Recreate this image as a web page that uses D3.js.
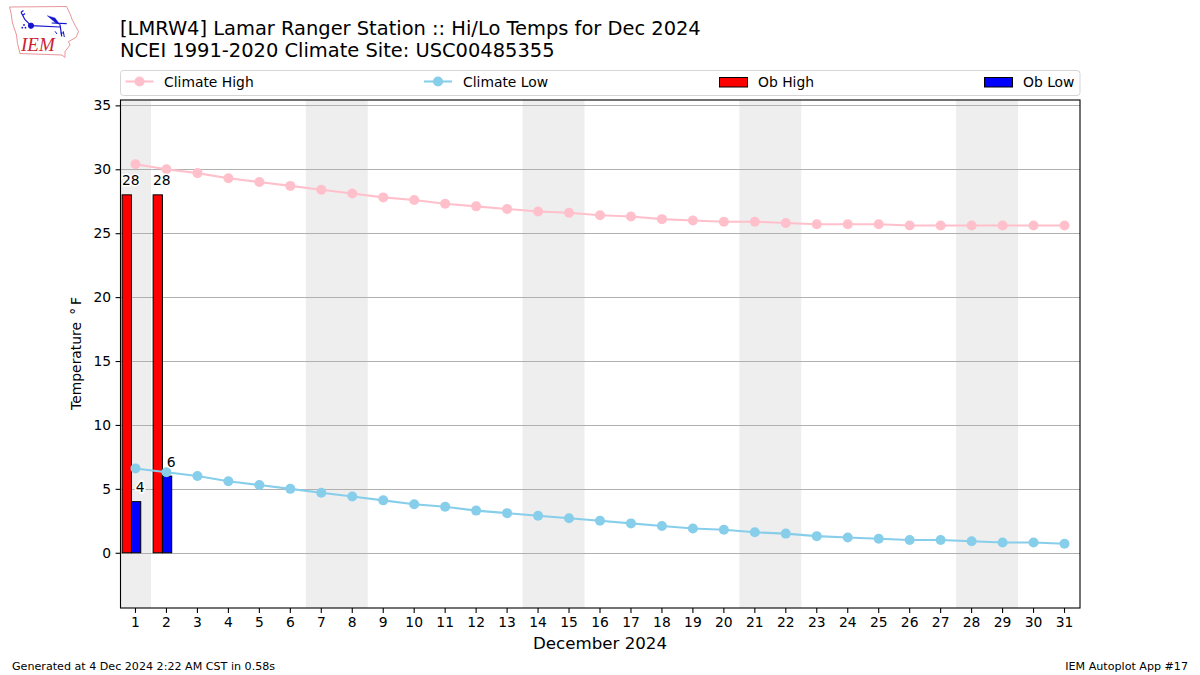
<!DOCTYPE html>
<html><head><meta charset="utf-8">
<script src="https://cdnjs.cloudflare.com/ajax/libs/d3/7.8.5/d3.min.js"></script>
<style>
html,body{margin:0;padding:0;background:#fff}
svg{display:block}
text{font-family:"DejaVu Sans",sans-serif;fill:#000}
</style></head><body>
<svg id="c" width="1200" height="675"></svg>
<script>
const days = d3.range(1, 32);
const climateHigh = [30.4,30.0,29.7,29.3,29.0,28.7,28.4,28.1,27.8,27.6,27.3,27.1,26.9,26.7,26.6,26.4,26.3,26.1,26.0,25.9,25.9,25.8,25.7,25.7,25.7,25.6,25.6,25.6,25.6,25.6,25.6];
const climateLow = [6.6,6.3,6.0,5.6,5.3,5.0,4.7,4.4,4.1,3.8,3.6,3.3,3.1,2.9,2.7,2.5,2.3,2.1,1.9,1.8,1.6,1.5,1.3,1.2,1.1,1.0,1.0,0.9,0.8,0.8,0.7];
const obDays = [1, 2];
const obHigh = [28, 28];
const obLow = [4, 6];
const weekends = [[0.5,1.5],[6.5,8.5],[13.5,15.5],[20.5,22.5],[27.5,29.5]];
const yTicks = [0,5,10,15,20,25,30,35];
const titleLines = ["[LMRW4] Lamar Ranger Station :: Hi/Lo Temps for Dec 2024","NCEI 1991-2020 Climate Site: USC00485355"];
const xLabel = "December 2024";
const yLabel = "Temperature \u2009\u00B0\u2009F";
const footLeft = "Generated at 4 Dec 2024 2:22 AM CST in 0.58s";
const footRight = "IEM Autoplot App #17";
const legendItems = [
  {name:"Climate High", kind:"line", color:"pink", x:125.5},
  {name:"Climate Low", kind:"line", color:"skyblue", x:424},
  {name:"Ob High", kind:"bar", color:"red", x:719},
  {name:"Ob Low", kind:"bar", color:"blue", x:984}
];

const L=120,R=1080,T=100,B=608;
const x=d3.scaleLinear().domain([0.5,31.5]).range([L,R]);
const y=d3.scaleLinear().domain([-4.32,35.42]).range([B,T]);
const snap=v=>Math.round(v)+.5;
const svg=d3.select("#c");

// logo
const logo=svg.append("g");
const outline=[[9.5,7],[66.5,6.5],[70.5,15],[72.5,20.5],[78.5,31.5],[76,37.5],[68.5,41.5],[70,45],[65,51.5],[65,57.5],[62,55],[20,53.5],[17.5,43.5],[16.5,35],[12.5,23],[11,13]];
logo.append("path").attr("d",d3.line().curve(d3.curveLinearClosed)(outline)).attr("fill","#fff").attr("stroke","#e8959c").attr("stroke-width",1);
const glyph=logo.append("g").attr("stroke","#1515d0").attr("fill","#1515d0");
glyph.append("path").attr("d","M31 25.7 L60 27 M51.7 23 L66.7 23.7 M60 24.7 L61.7 36.3 M21 12.3 L25 19.7 L31 25.7 M21 12.3 L23.5 10.5 M22.5 15.5 L25 13.5").attr("fill","none").attr("stroke-width",1.2);
glyph.append("circle").attr("cx",31).attr("cy",25.7).attr("r",2.6);
glyph.append("path").attr("d","M47.3 15.7 L55 18 L60 24.7 L55 22.3 Z").attr("stroke-width",.4);
glyph.append("path").attr("d","M55 31.3 L57 34 M63.3 31.3 L64.3 37 M60.5 33 L64 33").attr("fill","none").attr("stroke-width",1);
glyph.selectAll("circle.d").data([[22.3,27.7],[25.5,27.7],[24,25]]).join("circle").attr("class","d").attr("cx",d=>d[0]).attr("cy",d=>d[1]).attr("r",.9).attr("stroke","none");
logo.append("text").attr("x",21).attr("y",51).attr("font-size",19).attr("font-style","italic")
  .style("font-family","'Liberation Serif',serif").style("fill","#cc2233").text("IEM");

// titles
titleLines.forEach((t,i)=>svg.append("text").attr("x",120).attr("y",35+i*22).attr("font-size",19.44).text(t));

// legend
svg.append("rect").attr("x",120.5).attr("y",70.5).attr("width",959.5).attr("height",25).attr("rx",3)
  .attr("fill","#fff").attr("stroke","#d5d5d5").attr("stroke-width",1);
legendItems.forEach(d=>{
  if(d.kind==="line"){
    svg.append("line").attr("x1",d.x).attr("x2",d.x+28).attr("y1",81.5).attr("y2",81.5).attr("stroke",d.color).attr("stroke-width",2.08);
    svg.append("circle").attr("cx",d.x+14).attr("cy",81.5).attr("r",5).attr("fill",d.color);
  } else {
    svg.append("rect").attr("x",d.x+.5).attr("y",77.5).attr("width",28).attr("height",9.5).attr("fill",d.color).attr("stroke","#000").attr("stroke-width",1);
  }
  svg.append("text").attr("x",Math.round(d.x+38.7)).attr("y",86.5).attr("font-size",13.89).text(d.name);
});

// shading
svg.append("g").selectAll("rect").data(weekends).join("rect")
  .attr("x",d=>x(d[0])).attr("width",d=>x(d[1])-x(d[0])).attr("y",T).attr("height",B-T).attr("fill","#eeeeee");

// grid
svg.append("g").selectAll("line").data(yTicks).join("line")
  .attr("x1",L).attr("x2",R).attr("y1",d=>snap(y(d))).attr("y2",d=>snap(y(d))).attr("stroke","#b0b0b0").attr("stroke-width",1);

// bars
const bw=x(0.3)-x(0);
const bars=(vals,off,color)=>svg.append("g").selectAll("rect").data(vals).join("rect")
  .attr("x",(d,i)=>x(obDays[i]+off)).attr("width",bw).attr("y",d=>y(d)).attr("height",d=>y(0)-y(d))
  .attr("fill",color).attr("stroke","#000").attr("stroke-width",1);
bars(obHigh,-0.43,"red");
bars(obLow,-0.13,"blue");

// climate lines
const line=d3.line().x((d,i)=>x(days[i])).y(d=>y(d));
[[climateHigh,"pink"],[climateLow,"skyblue"]].forEach(([v,c])=>{
  svg.append("path").attr("d",line(v)).attr("fill","none").attr("stroke",c).attr("stroke-width",2.08);
  svg.append("g").selectAll("circle").data(v).join("circle").attr("cx",(d,i)=>x(days[i])).attr("cy",d=>y(d)).attr("r",5).attr("fill",c);
});

// bar labels
const labels=(vals,off)=>svg.append("g").selectAll("text").data(vals).join("text")
  .attr("x",(d,i)=>x(obDays[i]+off)).attr("y",d=>y(d)-9.5).attr("text-anchor","middle").attr("font-size",13.89)
  .attr("stroke","#fff").attr("stroke-width",3).attr("paint-order","stroke").text(d=>d);
labels(obHigh,-0.15);
labels(obLow,0.15);

// axes
const ax=d3.axisBottom(x).tickValues(days).tickFormat(d3.format("d")).tickSize(4.9).tickPadding(4.5).offset(0);
const ay=d3.axisLeft(y).tickValues(yTicks).tickSize(4.9).tickPadding(4.5);
const gx=svg.append("g").attr("transform",`translate(0,${B})`).call(ax);
const gy=svg.append("g").attr("transform",`translate(${L+.5},0)`).call(ay);
[gx,gy].forEach(g=>{
  g.selectAll(".domain").remove();
  g.selectAll("text").attr("font-size",13.89).style("font-family",'"DejaVu Sans",sans-serif').attr("fill","#000");
  g.selectAll("line").attr("stroke","#000").attr("stroke-width",1.1);
});
svg.append("rect").attr("x",L+.5).attr("y",T).attr("width",R-L-.5).attr("height",B-T).attr("fill","none").attr("stroke","#000").attr("stroke-width",1.1);

svg.append("text").attr("x",600).attr("y",649).attr("text-anchor","middle").attr("font-size",16.67).text(xLabel);
svg.append("text").attr("transform","translate(80.5,353.5) rotate(-90)").attr("text-anchor","middle").attr("font-size",13.89).text(yLabel);
svg.append("text").attr("x",12).attr("y",670).attr("font-size",11.11).text(footLeft);
svg.append("text").attr("x",1188).attr("y",670).attr("text-anchor","end").attr("font-size",11.11).text(footRight);
</script>
</body></html>
